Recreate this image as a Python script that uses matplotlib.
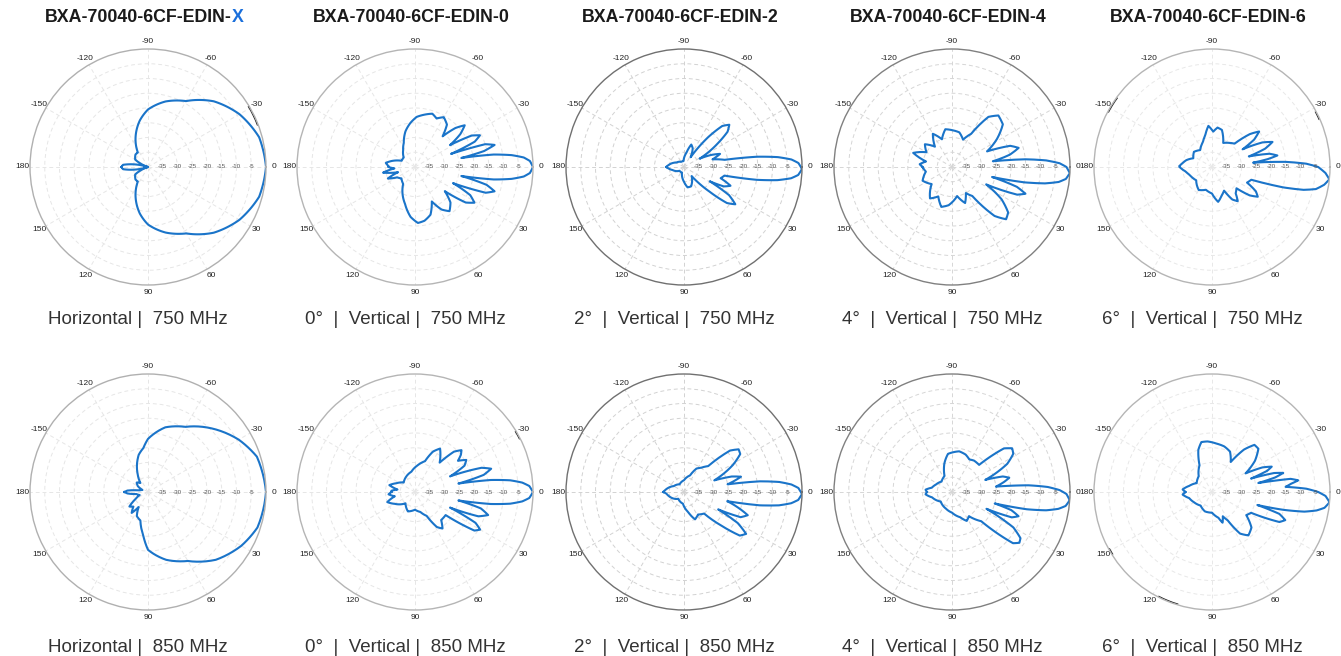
import matplotlib
matplotlib.use("Agg")
import matplotlib.pyplot as plt
import numpy as np

plt.rcParams['font.family'] = ['Liberation Sans', 'DejaVu Sans']

# antenna patterns, angle in degrees (positive = down / clockwise), level in dB
ang_h750 = [-180, -175, -168, -162, -150, -135, -125, -120, -110, -100, -90, -75, -60, -45, -30, -15, 0,
            15, 30, 45, 60, 75, 90, 100, 110, 120, 125, 135, 150, 162, 168, 175, 180]
db_h750 = [-31, -31.5, -36, -40, -35, -34, -34, -32, -28, -24, -20.5, -17, -14.2, -8.5, -4.2, -1, 0,
           -1, -4.2, -8.5, -14, -17, -20.5, -24, -28, -32, -34, -34, -35, -40, -36, -31.5, -31]

ang_v0_750 = [-178, -172, -165, -155, -140, -125, -115, -105, -96, -88, -80, -72, -66, -60, -53,
              -48, -44, -40, -36, -32, -29, -26, -23, -20, -18, -15.5, -13, -11, -9, -7, -5, -3, 0,
              3, 5, 7, 9, 11, 14, 17, 20, 23, 27, 31, 35, 39, 45, 52, 58, 64,
              72, 80, 87, 95, 105, 115, 125, 140, 150, 157, 163, 170, 176, 180]
db_v0_750 = [-31, -30, -32, -35, -35, -33, -31, -27.5, -25, -23, -22, -21, -22, -20.5, -22,
             -26, -21, -18, -21, -26, -18, -15.5, -18, -27, -15, -12, -16, -24, -13, -7, -3, -1, 0,
             -1, -3, -7, -13, -24, -15, -11.8, -14.5, -26, -19, -16.5, -19, -27, -23, -21, -23, -27,
             -23, -21.5, -21, -23, -27, -30, -33, -34, -33, -30, -34, -29, -33, -31]

ang_v2_750 = [-180, -170, -150, -120, -95, -80, -72, -65, -56, -51, -47, -43, -39, -35, -28, -24, -20, -15,
              -10, -8, -6, -4, -2, 1, 4, 6, 8, 10, 12, 17, 22, 26, 29, 32, 36, 40, 44, 50,
              70, 80, 90, 110, 140, 165, 180]
db_v2_750 = [-34, -35, -37, -38, -38, -35, -32, -33, -36, -27, -21, -19, -21, -26, -34, -30, -27, -30,
             -26, -15, -8, -3.5, -1.2, 0, -1.2, -3.5, -8, -15, -26, -27, -23, -25, -30, -22, -18.5, -21, -28, -36,
             -33, -33, -35, -38, -38, -36, -34]

ang_v4_750 = [-180, -175, -168, -160, -150, -140, -130, -120, -110, -100, -90, -78, -68, -60, -54, -48,
              -40, -32, -24, -20, -16, -12, -8, -6, -4, -2, 0, 3, 6, 8, 10, 12, 14, 17, 20, 23, 27,
              33, 39, 44, 49, 55, 62, 70, 80, 95, 105, 115, 125, 140, 155, 170, 180]
db_v4_750 = [-30, -29, -31, -26, -30, -28, -31, -27, -30, -27, -27.5, -28, -30, -27, -19, -16.5,
             -17.5, -22, -27, -19, -16.5, -20, -26, -15, -8, -3.5, -1.2, 0, -1.2, -3.5, -8, -15, -26, -17, -13.5, -16, -27,
             -20, -15.5, -14.5, -18, -28, -30, -27, -30, -27, -26, -29, -27, -31, -29, -31, -30]

ang_v6_750 = [-178, -172, -165, -155, -140, -125, -110, -102, -95, -88, -82, -75, -65, -55, -46, -41,
              -37, -33, -30, -26, -22.5, -19, -16, -13, -10, -8, -6, -4, -2, 0, 3, 6, 9, 12, 14, 16,
              18, 24, 29, 33, 37, 41, 48, 53, 58, 63, 70, 80, 90, 105, 120, 140, 160, 170, 175, 180]
db_v6_750 = [-29, -30, -31, -33, -32, -33, -31, -29, -26, -28, -26.5, -27, -31, -30, -29, -23,
             -20, -23, -28, -21, -17.8, -21, -27, -20, -17.5, -21, -26, -15, -8, -4, -1.5, 0, -1.5, -4, -8, -15,
             -26, -27, -23, -21.5, -24, -29, -28, -25.5, -27, -31, -30, -28, -31, -32, -31, -33, -32, -31, -30, -29]

ang_h850 = [-180, -176, -170, -160, -150, -140, -130, -120, -112, -104, -96, -90, -75, -60, -45, -30, -18, 0,
            18, 30, 45, 60, 75, 90, 96, 105, 115, 122, 128, 135, 142, 150, 160, 170, 176, 180]
db_h850 = [-32, -33, -37, -38, -36, -35, -36, -33, -30, -27, -25, -22, -17.3, -14.5, -9.5, -4.5, -1.2, 0,
           -1, -3.5, -7.5, -13, -16.2, -20.4, -25, -30, -31, -34, -31, -33, -32, -35, -37, -36, -33, -32]

ang_v0_850 = [-180, -177, -172, -165, -155, -140, -120, -100, -85, -72, -66, -60, -55, -50, -46, -42, -39,
              -36, -32, -28, -24, -20, -17, -14, -11, -9, -7, -5, -3, 0, 3, 5, 7, 9, 11, 14, 17.5,
              21, 24, 27, 30, 33, 37, 47, 53, 58, 64, 75, 90, 110, 130, 150, 160, 168, 175, 180]
db_v0_850 = [-32, -32, -34, -31, -33, -35, -34, -33, -31, -29, -25, -23, -25, -27, -21, -18.8, -20,
             -22, -19.5, -21, -27, -16, -13, -16, -25, -14, -7.5, -3.5, -1.2, 0, -1.2, -3.5, -7.5, -14, -25, -17, -14,
             -17, -27, -17, -14.5, -16, -27, -27, -24.5, -26, -31, -33, -34, -33, -35, -32, -30, -33, -31, -32]

ang_v2_850 = [-180, -170, -150, -120, -90, -70, -62, -55, -47, -42, -38, -34, -29, -21, -18, -15, -13,
              -10, -8, -6, -4, -2, 1, 4, 6, 8, 10, 12, 16, 20, 24, 27, 30, 34, 38, 42, 47,
              58, 68, 78, 95, 130, 160, 175, 180]
db_v2_850 = [-33, -34, -36, -37, -36, -34, -31, -30, -28, -19, -16.5, -17, -21, -29, -23, -20, -22,
             -25, -14, -7.5, -3.5, -1.2, 0, -1.2, -3.5, -7.5, -14, -25, -21, -17, -19, -27, -19, -14.6, -16, -23, -30,
             -31, -30, -33, -36, -37, -35, -34, -33]

ang_v4_850 = [-180, -175, -168, -155, -135, -115, -105, -96, -88, -80, -70, -62, -55, -45, -40, -36, -32,
              -27, -20, -17, -14, -11, -7, -5, -3, -1, 1, 4, 7, 9, 11, 13, 15, 17, 20, 23, 26,
              30, 34, 37, 40, 45, 55, 63, 72, 90, 110, 140, 165, 175, 180]
db_v4_850 = [-31.5, -31, -33, -34, -35, -34, -30, -27, -26.5, -26, -26.5, -27.5, -27, -27, -17, -14.8, -15.5,
             -19, -28, -22, -20, -22, -25, -14, -7.5, -3.5, -1.2, 0, -1.2, -3.5, -7.5, -14, -25, -19, -16, -18, -27,
             -16, -12, -11.4, -13, -26, -30, -29, -31, -33, -34, -35, -33, -31, -31.5]

ang_v6_850 = [-180, -175, -165, -150, -130, -115, -108, -102, -95, -85, -75, -66, -58, -53, -48, -43, -36,
              -29, -26, -23, -21, -19, -17, -15, -13, -11, -9.5, -7.7, -6, -4, -2, 0, 2, 5, 8, 10,
              12, 14, 16, 18, 21, 24, 28, 34, 42, 50, 56, 61, 66, 71, 76, 90, 110, 130, 150, 165, 175, 180]
db_v6_850 = [-31, -30, -32, -34, -33, -30, -25, -22.7, -22.8, -23.5, -24, -25, -28, -22, -18.5, -18.5, -22,
             -27, -21, -18, -20, -26, -18, -15, -18, -24, -13, -10.5, -13, -15, -8, -4, -1.5, 0, -1.5, -4,
             -8, -15, -24, -16, -13.4, -15, -25, -26, -22, -20.8, -23, -29, -31, -29, -31, -33, -33, -34, -33, -32, -30, -31]

# short dark marks on the rim seen in the scan: (row, col, start deg, end deg)
rim_marks = [(0, 0, -31, -21), (0, 4, -28, -24), (0, 4, -152, -144),
             (1, 4, 107, 117), (1, 4, 148, 151), (1, 1, -31, -27)]

titles = ['BXA-70040-6CF-EDIN-', 'BXA-70040-6CF-EDIN-0', 'BXA-70040-6CF-EDIN-2',
          'BXA-70040-6CF-EDIN-4', 'BXA-70040-6CF-EDIN-6']
tilts = ['', '0°  |  ', '2°  |  ', '4°  |  ', '6°  |  ']
pols = ['Horizontal |  ', 'Vertical |  ', 'Vertical |  ', 'Vertical |  ', 'Vertical |  ']
freqs = ['750 MHz', '850 MHz']

patterns = [[(ang_h750, db_h750), (ang_v0_750, db_v0_750), (ang_v2_750, db_v2_750),
             (ang_v4_750, db_v4_750), (ang_v6_750, db_v6_750)],
            [(ang_h850, db_h850), (ang_v0_850, db_v0_850), (ang_v2_850, db_v2_850),
             (ang_v4_850, db_v4_850), (ang_v6_850, db_v6_850)]]

theta_ticks = [0, 30, 60, 90, 120, 150, 180, 210, 240, 270, 300, 330]
theta_labels = ['0', '30', '60', '90', '120', '150', '180', '-150', '-120', '-90', '-60', '-30']
r_ticks = [-35, -30, -25, -20, -15, -10, -5]

W, H = 1341, 656
cxs = [148, 415, 684, 952, 1212]
cys = [167, 492]
R = 118
rim = [['#b0b0b0', '#b5b5b5', '#707070', '#808080', '#b5b5b5'],
       ['#b0b0b0', '#b5b5b5', '#707070', '#808080', '#b5b5b5']]
gridc = [['#e6e6e6', '#e6e6e6', '#d2d2d2', '#d6d6d6', '#e8e8e8'],
         ['#e6e6e6', '#e6e6e6', '#d2d2d2', '#d6d6d6', '#e8e8e8']]

fig = plt.figure(figsize=(W / 100, H / 100), dpi=100)
axes = {}

for row in range(2):
    for col in range(5):
        cx, cy = cxs[col], cys[row]
        ax = fig.add_axes([(cx - R) / W, (H - cy - R) / H, 2 * R / W, 2 * R / H], projection='polar')
        axes[(row, col)] = ax
        ax.set_theta_zero_location('E')
        ax.set_theta_direction(-1)
        ang, db = patterns[row][col]
        ln, = ax.plot(np.deg2rad(ang), db, color='#1a74c9', lw=1.5, solid_joinstyle='round')
        ln.get_path()._interpolation_steps = 12  # draw segments along polar arcs
        ax.set_ylim(-40, 0)
        ax.set_yticks(r_ticks)
        ax.set_yticklabels([])
        ax.set_thetagrids(theta_ticks, theta_labels)
        ax.tick_params(axis='x', labelsize=6, colors='#222222', pad=-5)
        ax.grid(True, color=gridc[row][col], lw=0.7, ls=(0, (4, 3)))
        ax.spines['polar'].set_color(rim[row][col])
        ax.spines['polar'].set_linewidth(1.0)
        for r in r_ticks:
            ax.text(0, r, str(r), fontsize=4.5, color='#555555', ha='center', va='center')

        cap = tilts[col] + pols[col] + freqs[row]
        fig.text((cx - 10) / W, 1 - (320 + row * 327) / H, cap, fontsize=13.5, color='#333333',
                 ha='center', va='center')

for row, col, a0, a1 in rim_marks:
    ax = axes[(row, col)]
    ln, = ax.plot(np.deg2rad([a0, a1]), [-0.3, -0.3], color='#222222', lw=0.8, clip_on=False)
    ln.get_path()._interpolation_steps = 12

for col in range(5):
    if col == 0:
        t = fig.text(45 / W, 1 - 18 / H, titles[0], fontsize=12.8, fontweight='bold',
                     color='#1a1a1a', ha='left', va='center')
        fig.canvas.draw()
        bb = t.get_window_extent()
        fig.text(bb.x1 / W, 1 - 18 / H, 'X', fontsize=12.8, fontweight='bold',
                 color='#1a6fdb', ha='left', va='center')
    else:
        fig.text((cxs[col] - 4) / W, 1 - 18 / H, titles[col], fontsize=12.8, fontweight='bold',
                 color='#1a1a1a', ha='center', va='center')

fig.savefig('out.png', dpi=100)
